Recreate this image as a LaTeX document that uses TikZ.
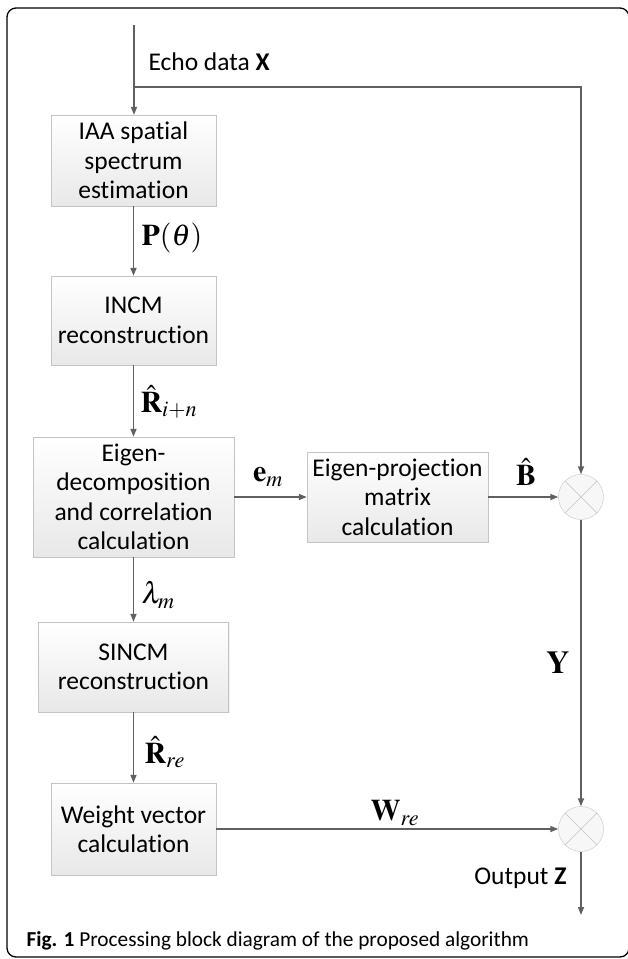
\documentclass[tikz,border=0pt]{standalone}
\usepackage{mathptmx}
\usepackage[no-math]{fontspec}
\setmainfont{Carlito}[Ligatures=NoCommon]
\usepackage{tikz}
\usetikzlibrary{arrows.meta,shadows}

\definecolor{linegray}{HTML}{606060}
\definecolor{edgegray}{HTML}{C4C4C4}

\begin{document}
\begin{tikzpicture}[
    x=1pt, y=-1pt,
    block/.style={rectangle, draw=edgegray, top color=white, bottom color=black!9, align=center, font=\fontsize{25.5}{29.5}\selectfont, inner sep=2pt, drop shadow={opacity=0.12, shadow xshift=1.2pt, shadow yshift=-1.2pt}},
    mixer/.style={circle, draw=edgegray, fill=black!3, minimum size=45pt, inner sep=0pt},
    flow/.style={draw=linegray, line width=1.6pt, -{Triangle[length=8pt,width=6pt]}},
    sym/.style={font=\fontsize{30}{30}\selectfont},
    lbl/.style={font=\fontsize{25.5}{29.5}\selectfont}
]
    \useasboundingbox (0,0) rectangle (627,959);
    % outer frame
    \draw[line width=1.3pt, rounded corners=9pt] (7,8) rectangle (629,957);

    % processing blocks
    \node[block, minimum width=165pt, minimum height=91pt] (iaa) at (133.5,160.5) {IAA spatial\\spectrum\\estimation};
    \node[block, minimum width=165pt, minimum height=89pt] (incm) at (133.5,320.5) {INCM\\reconstruction};
    \node[block, minimum width=201pt, minimum height=120pt] (eig) at (133.5,497) {Eigen-\\decomposition\\and correlation\\calculation};
    \node[block, minimum width=181pt, minimum height=90pt] (proj) at (397.5,497) {Eigen-projection\\matrix\\calculation};
    \node[block, minimum width=190pt, minimum height=90pt] (sincm) at (133.5,667) {SINCM\\reconstruction};
    \node[block, minimum width=165pt, minimum height=92pt] (weight) at (133.5,829) {Weight vector\\calculation};

    % multipliers
    \node[mixer] (mix1) at (581,497) {};
    \node[mixer] (mix2) at (581,829) {};
    \foreach \m in {mix1,mix2}
        \draw[edgegray, line width=0.6pt] (\m.north west) -- (\m.south east) (\m.north east) -- (\m.south west);

    \coordinate (in) at (134,25);
    \coordinate (split) at (134,87);
    \coordinate (out) at (581,915);

    % connectors
    \draw[flow] (in) -- (in |- iaa.north);
    \draw[flow] (split) -| (mix1);
    \draw[flow] (iaa) -- (incm);
    \draw[flow] (incm) -- (eig);
    \draw[flow] (eig) -- (proj);
    \draw[flow] (proj) -- (mix1);
    \draw[flow] (eig) -- (sincm);
    \draw[flow] (sincm) -- (weight);
    \draw[flow] (weight) -- (mix2);
    \draw[flow] (mix1) -- (mix2);
    \draw[flow] (mix2) -- (out);

    % labels
    \node[lbl, anchor=west] (echo) at (145,62) {Echo data \textbf{X}};
    \node[sym, anchor=west] (ptheta) at (138,238) {$\mathbf{P}(\theta)$};
    \node[sym, anchor=west] (rin) at (137,402) {$\hat{\mathbf{R}}_{i+n}$};
    \node[sym] (em) at (268,477) {$\mathbf{e}_m$};
    \node[sym] (bhat) at (526,472) {$\hat{\mathbf{B}}$};
    \node[sym, anchor=west] (lam) at (138,595) {$\lambda_m$};
    \node[sym, font=\fontsize{32}{32}\selectfont] (y) at (558,663) {$\mathbf{Y}$};
    \node[sym, anchor=west] (rre) at (141,752) {$\hat{\mathbf{R}}_{re}$};
    \node[sym] (wre) at (395,813) {$\mathbf{W}_{re}$};
    \node[lbl, anchor=east] (outz) at (570,878) {Output \textbf{Z}};

    \node[anchor=west, font=\fontsize{21.3}{21.3}\selectfont] (caption) at (23,941) {\textbf{Fig. 1} Processing block diagram of the proposed algorithm};
\end{tikzpicture}
\end{document}
